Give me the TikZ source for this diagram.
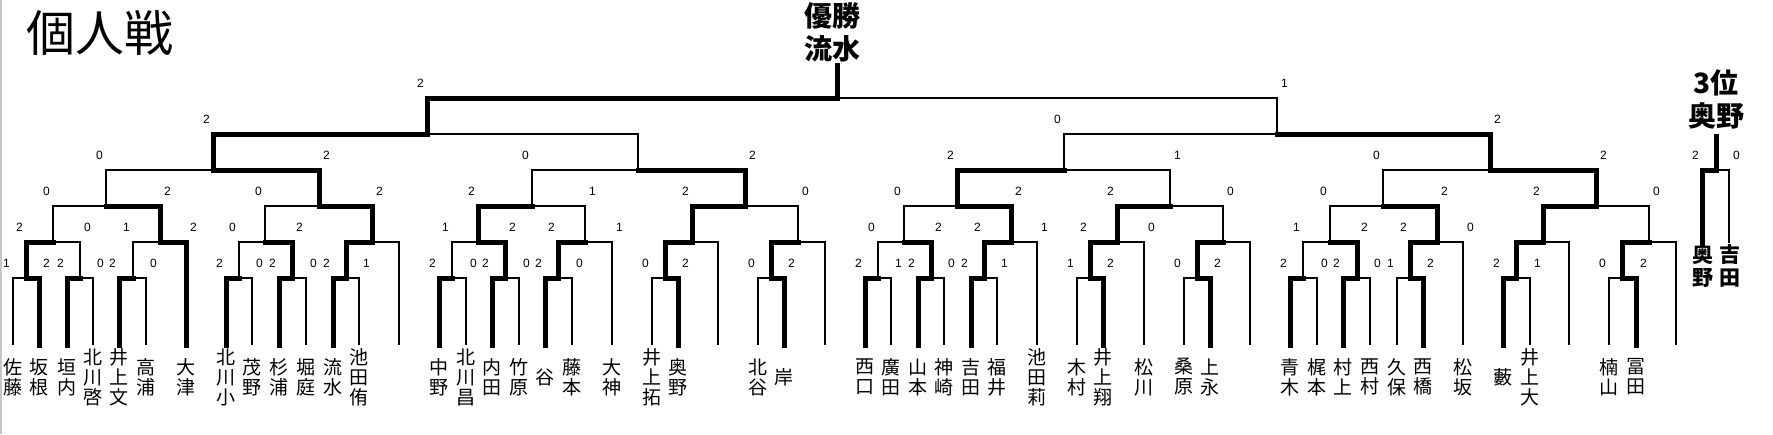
\documentclass[tikz,border=0pt]{standalone}
\usepackage{fontspec}
\setmainfont{Liberation Sans}
\newfontfamily\jp{Noto Sans CJK JP}
\usetikzlibrary{calc}

\tikzset{
  win/.style={line width=5pt, line cap=rect},
  lose/.style={line width=1.6pt},
  score/.style={font=\fontsize{12}{12}\selectfont, inner sep=0pt},
  player/.style={font=\jp\fontsize{19}{20}\selectfont, align=center, inner sep=0pt},
  third/.style={font=\jp\bfseries\fontsize{21}{23}\selectfont, align=center, inner sep=0pt},
  winner/.style={font=\jp\bfseries\fontsize{28}{33}\selectfont, align=center, inner sep=0pt}
}

\begin{document}
\begin{tikzpicture}[x=1pt, y=-1pt]
  \useasboundingbox (0,0) rectangle (1773,434);
  \draw[gray!45, line width=2pt] (1,0) -- (1,434);
  % Title
  \node[font=\jp\fontsize{49}{49}\selectfont, anchor=west, inner sep=0pt] (title) at (26,33) {個人戦};
  % Leaves
  \foreach \x/\n [count=\i] in {13/佐\\藤, 39/坂\\根, 67/垣\\内, 93/北\\川\\啓, 119/井\\上\\文,
    146/高\\浦, 186/大\\津, 226/北\\川\\小, 252/茂\\野, 279/杉\\浦, 306/堀\\庭, 333/流\\水,
    359/池\\田\\侑, 399/{}, 439/中\\野, 466/北\\川\\昌, 492/内\\田, 519/竹\\原, 545/谷,
    572/藤\\本, 612/大\\神, 652/井\\上\\拓, 678/奥\\野, 718/{}, 758/北\\谷, 784/岸, 825/{},
    865/西\\口, 891/廣\\田, 918/山\\本, 944/神\\崎, 971/吉\\田, 997/福\\井, 1037/池\\田\\莉,
    1077/木\\村, 1103/井\\上\\翔, 1144/松\\川, 1184/桑\\原, 1210/上\\永, 1250/{}, 1290/青\\木,
    1317/梶\\本, 1343/村\\上, 1370/西\\村, 1397/久\\保, 1423/西\\橋, 1463/松\\坂, 1503/藪,
    1530/井\\上\\大, 1569/{}, 1609/楠\\山, 1636/冨\\田, 1676/{}} {
    \coordinate (l\i) at (\x,345);
    \node[player] (n\i) at (\x,377) {\n};
  }
  % 3rd place
  \coordinate (t1) at (1702,243);
  \coordinate (t2) at (1729,243);
  \node[third] (tn1) at (1703,266) {奥\\野};
  \node[third] (tn2) at (1730,266) {吉\\田};
  % Matches
  \foreach \m/\a/\b/\y/\x/\sa/\sb/\ca/\cb in {
    m1/l1/l2/278/26/lose/win/1/2, m2/l3/l4/278/80/win/lose/2/0,
    m3/l5/l6/278/133/win/lose/2/0, m4/l8/l9/278/239/win/lose/2/0,
    m5/l10/l11/278/292/win/lose/2/0, m6/l12/l13/278/346/win/lose/2/1,
    m7/l15/l16/278/452/win/lose/2/0, m8/l17/l18/278/505/win/lose/2/0,
    m9/l19/l20/278/558/win/lose/2/0, m10/l22/l23/278/665/lose/win/0/2,
    m11/l25/l26/278/771/lose/win/0/2, m12/l28/l29/278/878/win/lose/2/1,
    m13/l30/l31/278/931/win/lose/2/0, m14/l32/l33/278/984/win/lose/2/1,
    m15/l35/l36/278/1090/lose/win/1/2, m16/l38/l39/278/1197/lose/win/0/2,
    m17/l41/l42/278/1303/win/lose/2/0, m18/l43/l44/278/1357/win/lose/2/0,
    m19/l45/l46/278/1410/lose/win/1/2, m20/l48/l49/278/1516/win/lose/2/1,
    m21/l51/l52/278/1622/lose/win/0/2,
    n1/m1/m2/242/53/win/lose/2/0, n2/m3/l7/242/160/lose/win/1/2,
    n3/m4/m5/242/265/lose/win/0/2, n4/m6/l14/242/372/win/lose/{}/{},
    n5/m7/m8/242/478/lose/win/1/2, n6/m9/l21/242/585/win/lose/2/1,
    n7/m10/l24/242/692/win/lose/{}/{}, n8/m11/l27/242/798/win/lose/{}/{},
    n9/m12/m13/242/904/lose/win/0/2, n10/m14/l34/242/1011/win/lose/2/1,
    n11/m15/l37/242/1117/win/lose/2/0, n12/m16/l40/242/1223/win/lose/{}/{},
    n13/m17/m18/242/1330/lose/win/1/2, n14/m19/l47/242/1437/win/lose/2/0,
    n15/m20/l50/242/1543/win/lose/{}/{}, n16/m21/l53/242/1649/win/lose/{}/{},
    o1/n1/n2/206/106/lose/win/0/2, o2/n3/n4/206/319/lose/win/0/2,
    o3/n5/n6/206/532/win/lose/2/1, o4/n7/n8/206/745/win/lose/2/0,
    o5/n9/n10/206/957/lose/win/0/2, o6/n11/n12/206/1170/win/lose/2/0,
    o7/n13/n14/206/1383/lose/win/0/2, o8/n15/n16/206/1596/win/lose/2/0,
    p1/o1/o2/170/213/lose/win/0/2, p2/o3/o4/170/638/lose/win/0/2,
    p3/o5/o6/170/1064/win/lose/2/1, p4/o7/o8/170/1490/lose/win/0/2,
    q1/p1/p2/134/427/win/lose/2/{}, q2/p3/p4/134/1277/lose/win/0/2,
    f/q1/q2/98/837/win/lose/2/1,
    t/t1/t2/170/1716/win/lose/2/0} {
    \coordinate (\m) at (\x,\y);
    \draw[\sa] (\a) |- (\m);
    \draw[\sb] (\b) |- (\m);
    \node[score] (\m-a) at ($(\a |- \m)+(-6.5,-15)$) {\ca};
    \node[score] (\m-b) at ($(\b |- \m)+(7.5,-15)$) {\cb};
  }
  % Winners
  \coordinate (top) at (837,65);
  \coordinate (ttop) at (1716,136);
  \draw[win] (f) -- (top);
  \draw[win] (t) -- (ttop);
  \node[winner] (champ) at (832,32) {優勝\\流水};
  \node[winner] (bronze) at (1716,99) {3位\\奥野};
\end{tikzpicture}
\end{document}
